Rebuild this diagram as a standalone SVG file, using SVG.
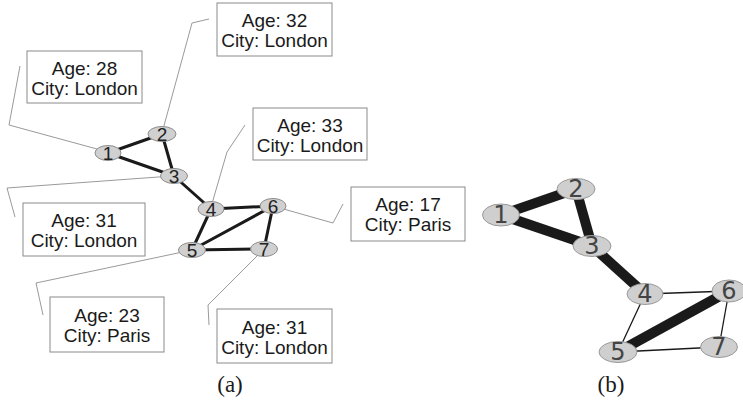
<svg xmlns="http://www.w3.org/2000/svg" width="743" height="401" viewBox="0 0 743 401">
<style>
.bg{fill:#ffffff}
.lead{fill:none;stroke:#9a9a9a;stroke-width:1}
.box{fill:#ffffff;stroke:#8a8a8a;stroke-width:1}
.bt{font-family:"Liberation Sans",Arial,sans-serif;font-size:19px;fill:#1a1a1a;text-anchor:middle}
.ea{stroke:#1a1a1a;stroke-width:3;stroke-linecap:round}
.na{fill:#d0d0d0;stroke:#8c8c8c;stroke-width:1}
.la{font-family:"Liberation Sans",Arial,sans-serif;font-size:19px;fill:#222;text-anchor:middle}
.ebk{stroke:#1a1a1a;stroke-width:10}
.ebn{stroke:#1a1a1a;stroke-width:1.3}
.nb{fill:#cfcfcf;stroke:#9a9a9a;stroke-width:1}
.lb{font-family:"DejaVu Sans","Liberation Sans",sans-serif;font-size:24px;fill:#444;text-anchor:middle}
.cap{font-family:"Liberation Serif","Times New Roman",serif;font-size:23px;fill:#1a1a1a;text-anchor:middle}
</style>
<rect class="bg" x="0" y="0" width="743" height="401"/>
<g id="connectors">
  <g id="leaders">
    <polyline class="lead" points="108,152 9,125 20,66"/>
    <polyline class="lead" points="162,133 192,23 209,19"/>
    <polyline class="lead" points="172,176 7,188 15,217"/>
    <polyline class="lead" points="245,125 227,152 211,207"/>
    <polyline class="lead" points="273,206 333,223 343,204"/>
    <polyline class="lead" points="192,250 36,283 43,315"/>
    <polyline class="lead" points="264,249 208,305 209,325"/>
  </g>
  <g id="edges-a">
    <line class="ea" x1="108" y1="153" x2="162" y2="134"/>
    <line class="ea" x1="108" y1="153" x2="174" y2="176"/>
    <line class="ea" x1="162" y1="134" x2="174" y2="176"/>
    <line class="ea" x1="174" y1="176" x2="211" y2="209"/>
    <line class="ea" x1="211" y1="209" x2="273" y2="206"/>
    <line class="ea" x1="211" y1="209" x2="192" y2="250"/>
    <line class="ea" x1="192" y1="250" x2="273" y2="206"/>
    <line class="ea" x1="192" y1="250" x2="264" y2="249"/>
    <line class="ea" x1="273" y1="206" x2="264" y2="249"/>
  </g>
  <g id="edges-b">
    <line class="ebk" x1="501" y1="215" x2="576" y2="189"/>
    <line class="ebk" x1="501" y1="215" x2="592" y2="246"/>
    <line class="ebk" x1="576" y1="189" x2="592" y2="246"/>
    <line class="ebk" x1="592" y1="246" x2="645" y2="294"/>
    <line class="ebk" x1="618" y1="352" x2="729" y2="291"/>
    <line class="ebn" x1="645" y1="294" x2="729" y2="291"/>
    <line class="ebn" x1="645" y1="294" x2="618" y2="352"/>
    <line class="ebn" x1="618" y1="352" x2="719" y2="347"/>
    <line class="ebn" x1="729" y1="291" x2="719" y2="347"/>
  </g>
</g>
<g id="box1"><rect class="box" x="27" y="51" width="115" height="52"/><text class="bt" x="84.5" y="75">Age: 28</text><text class="bt" x="84.5" y="95">City: London</text></g>
<g id="box2"><rect class="box" x="217" y="3" width="115" height="53"/><text class="bt" x="274.5" y="27">Age: 32</text><text class="bt" x="274.5" y="47">City: London</text></g>
<g id="box3"><rect class="box" x="253" y="108" width="114" height="52"/><text class="bt" x="310" y="132">Age: 33</text><text class="bt" x="310" y="152">City: London</text></g>
<g id="box4"><rect class="box" x="23" y="203" width="122" height="53"/><text class="bt" x="84" y="227">Age: 31</text><text class="bt" x="84" y="247">City: London</text></g>
<g id="box5"><rect class="box" x="50" y="297" width="114" height="55"/><text class="bt" x="107" y="322">Age: 23</text><text class="bt" x="107" y="342">City: Paris</text></g>
<g id="box6"><rect class="box" x="217" y="309" width="115" height="54"/><text class="bt" x="274.5" y="334">Age: 31</text><text class="bt" x="274.5" y="354">City: London</text></g>
<g id="box7"><rect class="box" x="351" y="187" width="114" height="54"/><text class="bt" x="408" y="211">Age: 17</text><text class="bt" x="408" y="231">City: Paris</text></g>
<g id="a1"><ellipse class="na" cx="108" cy="153" rx="13" ry="7.5"/><text class="la" x="108" y="160">1</text></g>
<g id="a2"><ellipse class="na" cx="162" cy="134" rx="14" ry="7.5"/><text class="la" x="162" y="141">2</text></g>
<g id="a3"><ellipse class="na" cx="174" cy="176" rx="13.5" ry="7.5"/><text class="la" x="174" y="183">3</text></g>
<g id="a4"><ellipse class="na" cx="211" cy="209" rx="13" ry="7.5"/><text class="la" x="211" y="216">4</text></g>
<g id="a5"><ellipse class="na" cx="192" cy="250" rx="13.5" ry="7.5"/><text class="la" x="192" y="257">5</text></g>
<g id="a6"><ellipse class="na" cx="273" cy="206" rx="13" ry="7.5"/><text class="la" x="273" y="213">6</text></g>
<g id="a7"><ellipse class="na" cx="264" cy="249" rx="13.5" ry="7.5"/><text class="la" x="264" y="256">7</text></g>
<g id="b1"><ellipse class="nb" cx="501" cy="215" rx="18.5" ry="11"/><text class="lb" x="501" y="223">1</text></g>
<g id="b2"><ellipse class="nb" cx="576" cy="189" rx="19" ry="10.5"/><text class="lb" x="576" y="197">2</text></g>
<g id="b3"><ellipse class="nb" cx="592" cy="246" rx="19" ry="10.5"/><text class="lb" x="592" y="254">3</text></g>
<g id="b4"><ellipse class="nb" cx="645" cy="294" rx="18" ry="10.5"/><text class="lb" x="645" y="302">4</text></g>
<g id="b5"><ellipse class="nb" cx="618" cy="352" rx="19" ry="10.5"/><text class="lb" x="618" y="360">5</text></g>
<g id="b6"><ellipse class="nb" cx="729" cy="291" rx="17" ry="11"/><text class="lb" x="729" y="299">6</text></g>
<g id="b7"><ellipse class="nb" cx="719" cy="347" rx="18.5" ry="10.5"/><text class="lb" x="719" y="355">7</text></g>
<text class="cap" x="230" y="392">(a)</text>
<text class="cap" x="611" y="392">(b)</text>
</svg>
